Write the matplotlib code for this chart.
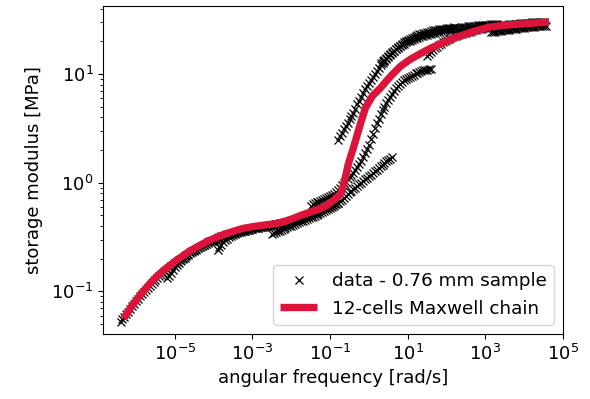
import numpy as np
import matplotlib
matplotlib.use("Agg")
import matplotlib.pyplot as plt

# ---- data (log10 of angular frequency [rad/s], log10 of storage modulus [MPa]) ----
seg1_logw = [-6.4, -6.35, -6.3, -6.25, -6.2, -6.15, -6.1, -6.05, -6.0, -5.95,
             -5.9, -5.85, -5.8, -5.75, -5.7, -5.65, -5.6, -5.55, -5.5, -5.45,
             -5.4, -5.35, -5.3, -5.25, -5.2, -5.15, -5.1, -5.05, -5.0, -4.95,
             -4.9, -4.85, -4.8, -4.75, -4.7, -4.65, -4.6, -4.55, -4.5, -4.45,
             -4.4, -4.35, -4.3, -4.25, -4.2, -4.15, -4.1, -4.05, -4.0, -3.95,
             -3.9, -3.85, -3.8, -3.75, -3.7, -3.65, -3.6, -3.55, -3.5]
seg1_logG = [-1.28, -1.258, -1.235, -1.21, -1.185, -1.16, -1.135, -1.112, -1.09, -1.067,
             -1.045, -1.025, -1.005, -0.985, -0.965, -0.947, -0.93, -0.912, -0.895, -0.877,
             -0.86, -0.845, -0.83, -0.815, -0.80, -0.785, -0.77, -0.755, -0.74, -0.727,
             -0.715, -0.702, -0.69, -0.677, -0.665, -0.652, -0.64, -0.63, -0.62, -0.61,
             -0.60, -0.59, -0.58, -0.57, -0.56, -0.55, -0.54, -0.532, -0.525, -0.517,
             -0.51, -0.502, -0.495, -0.487, -0.48, -0.475, -0.47, -0.465, -0.46]

seg2_logw = [-5.2, -5.15, -5.1, -5.05, -5.0, -4.95, -4.9, -4.85, -4.8, -4.75,
             -4.7, -4.65, -4.6, -4.55, -4.5, -4.45, -4.4, -4.35, -4.3, -4.25,
             -4.2, -4.15, -4.1, -4.05, -4.0, -3.95, -3.9, -3.85, -3.8, -3.75,
             -3.7, -3.65, -3.6, -3.55, -3.5, -3.45, -3.4, -3.35, -3.3, -3.25,
             -3.2, -3.15, -3.1, -3.05, -3.0, -2.95, -2.9, -2.85, -2.8, -2.75,
             -2.7, -2.65, -2.6, -2.55, -2.5, -2.45, -2.4, -2.35, -2.3, -2.25,
             -2.2, -2.15, -2.1]
seg2_logG = [-0.88, -0.855, -0.83, -0.805, -0.78, -0.76, -0.74, -0.722, -0.705, -0.69,
             -0.675, -0.662, -0.65, -0.637, -0.625, -0.615, -0.605, -0.595, -0.585, -0.575,
             -0.565, -0.556, -0.548, -0.54, -0.532, -0.524, -0.517, -0.51, -0.503, -0.496,
             -0.49, -0.484, -0.478, -0.472, -0.467, -0.462, -0.457, -0.452, -0.448, -0.444,
             -0.44, -0.436, -0.432, -0.428, -0.425, -0.421, -0.418, -0.414, -0.411, -0.407,
             -0.404, -0.40, -0.397, -0.393, -0.39, -0.386, -0.383, -0.379, -0.376, -0.372,
             -0.368, -0.364, -0.36]

seg3_logw = [-3.9, -3.85, -3.8, -3.75, -3.7, -3.65, -3.6, -3.55, -3.5, -3.45,
             -3.4, -3.35, -3.3, -3.25, -3.2, -3.15, -3.1, -3.05, -3.0, -2.95,
             -2.9, -2.85, -2.8, -2.75, -2.7, -2.65, -2.6, -2.55, -2.5, -2.45,
             -2.4, -2.35, -2.3, -2.25, -2.2, -2.15, -2.1, -2.05, -2.0, -1.95,
             -1.9, -1.85, -1.8, -1.75, -1.7, -1.65, -1.6, -1.55, -1.5, -1.45,
             -1.4, -1.35, -1.3, -1.25, -1.2, -1.15, -1.1, -1.05, -1.0, -0.95,
             -0.9, -0.85, -0.8]
seg3_logG = [-0.62, -0.595, -0.57, -0.55, -0.53, -0.515, -0.50, -0.49, -0.48, -0.472,
             -0.465, -0.458, -0.452, -0.447, -0.442, -0.437, -0.433, -0.429, -0.425, -0.421,
             -0.417, -0.413, -0.41, -0.406, -0.403, -0.399, -0.396, -0.392, -0.389, -0.385,
             -0.382, -0.378, -0.375, -0.371, -0.367, -0.363, -0.359, -0.355, -0.35, -0.345,
             -0.34, -0.335, -0.33, -0.324, -0.318, -0.311, -0.305, -0.297, -0.29, -0.282,
             -0.275, -0.267, -0.26, -0.252, -0.245, -0.237, -0.23, -0.222, -0.215, -0.207,
             -0.20, -0.192, -0.185]

seg4_logw = [-2.5, -2.45, -2.4, -2.35, -2.3, -2.25, -2.2, -2.15, -2.1, -2.05,
             -2.0, -1.95, -1.9, -1.85, -1.8, -1.75, -1.7, -1.65, -1.6, -1.55,
             -1.5, -1.45, -1.4, -1.35, -1.3, -1.25, -1.2, -1.15, -1.1, -1.05,
             -1.0, -0.95, -0.9, -0.85, -0.8, -0.75, -0.7, -0.65, -0.6, -0.55,
             -0.5, -0.45, -0.4, -0.35, -0.3, -0.25, -0.2, -0.15, -0.1, -0.05,
             0.0, 0.05, 0.1, 0.15, 0.2, 0.25, 0.3, 0.35, 0.4, 0.45,
             0.5, 0.55, 0.6]
seg4_logG = [-0.47, -0.462, -0.455, -0.447, -0.44, -0.432, -0.425, -0.417, -0.41, -0.402,
             -0.395, -0.387, -0.38, -0.372, -0.365, -0.357, -0.35, -0.342, -0.335, -0.327,
             -0.32, -0.312, -0.305, -0.297, -0.29, -0.28, -0.27, -0.26, -0.25, -0.24,
             -0.23, -0.22, -0.21, -0.197, -0.185, -0.17, -0.155, -0.14, -0.125, -0.107,
             -0.09, -0.075, -0.06, -0.045, -0.03, -0.015, 0.0, 0.015, 0.03, 0.045,
             0.06, 0.075, 0.09, 0.105, 0.12, 0.135, 0.15, 0.165, 0.18, 0.195,
             0.21, 0.222, 0.235]

seg5_logw = [-1.5, -1.45, -1.4, -1.35, -1.3, -1.25, -1.2, -1.15, -1.1, -1.05,
             -1.0, -0.95, -0.9, -0.85, -0.8, -0.75, -0.7, -0.65, -0.6, -0.55,
             -0.5, -0.45, -0.4, -0.35, -0.3, -0.25, -0.2, -0.15, -0.1, -0.05,
             0.0, 0.05, 0.1, 0.15, 0.2, 0.25, 0.3, 0.35, 0.4, 0.45,
             0.5, 0.55, 0.6, 0.65, 0.7, 0.75, 0.8, 0.85, 0.9, 0.95,
             1.0, 1.05, 1.1, 1.15, 1.2, 1.25, 1.3, 1.35, 1.4, 1.45,
             1.5, 1.55, 1.6]
seg5_logG = [-0.21, -0.20, -0.19, -0.182, -0.175, -0.167, -0.16, -0.15, -0.14, -0.132,
             -0.125, -0.112, -0.10, -0.085, -0.07, -0.045, -0.02, -0.005, 0.01, 0.03,
             0.05, 0.07, 0.09, 0.115, 0.14, 0.17, 0.20, 0.235, 0.27, 0.31,
             0.35, 0.40, 0.45, 0.50, 0.55, 0.59, 0.63, 0.665, 0.70, 0.73,
             0.76, 0.79, 0.82, 0.845, 0.87, 0.89, 0.91, 0.925, 0.94, 0.952,
             0.965, 0.975, 0.985, 0.995, 1.005, 1.012, 1.02, 1.027, 1.035, 1.038,
             1.04, 1.045, 1.05]

seg6_logw = [-0.8, -0.75, -0.7, -0.65, -0.6, -0.55, -0.5, -0.45, -0.4, -0.35,
             -0.3, -0.25, -0.2, -0.15, -0.1, -0.05, 0.0, 0.05, 0.1, 0.15,
             0.2, 0.25, 0.3, 0.35, 0.4, 0.45, 0.5, 0.55, 0.6, 0.65,
             0.7, 0.75, 0.8, 0.85, 0.9, 0.95, 1.0, 1.05, 1.1, 1.15,
             1.2, 1.25, 1.3, 1.35, 1.4, 1.45, 1.5, 1.55, 1.6, 1.65,
             1.7, 1.75, 1.8, 1.85, 1.9, 1.95, 2.0, 2.05, 2.1, 2.15,
             2.2]
seg6_logG = [0.39, 0.425, 0.46, 0.49, 0.52, 0.552, 0.585, 0.615, 0.645, 0.682,
             0.72, 0.755, 0.79, 0.825, 0.86, 0.89, 0.92, 0.947, 0.975, 1.002,
             1.03, 1.055, 1.08, 1.10, 1.12, 1.14, 1.16, 1.177, 1.195, 1.212,
             1.23, 1.245, 1.26, 1.275, 1.29, 1.302, 1.315, 1.325, 1.335, 1.342,
             1.35, 1.357, 1.365, 1.37, 1.375, 1.38, 1.385, 1.39, 1.395, 1.40,
             1.405, 1.407, 1.41, 1.412, 1.415, 1.417, 1.42, 1.422, 1.425, 1.427,
             1.43]

seg7_logw = [0.3, 0.35, 0.4, 0.45, 0.5, 0.55, 0.6, 0.65, 0.7, 0.75,
             0.8, 0.85, 0.9, 0.95, 1.0, 1.05, 1.1, 1.15, 1.2, 1.25,
             1.3, 1.35, 1.4, 1.45, 1.5, 1.55, 1.6, 1.65, 1.7, 1.75,
             1.8, 1.85, 1.9, 1.95, 2.0, 2.05, 2.1, 2.15, 2.2, 2.25,
             2.3, 2.35, 2.4, 2.45, 2.5, 2.55, 2.6, 2.65, 2.7, 2.75,
             2.8, 2.85, 2.9, 2.95, 3.0, 3.05, 3.1, 3.15, 3.2, 3.25,
             3.3]
seg7_logG = [1.10, 1.115, 1.13, 1.147, 1.165, 1.182, 1.20, 1.215, 1.23, 1.242,
             1.255, 1.267, 1.28, 1.29, 1.30, 1.307, 1.315, 1.322, 1.33, 1.335,
             1.34, 1.345, 1.35, 1.355, 1.36, 1.365, 1.37, 1.375, 1.38, 1.385,
             1.39, 1.395, 1.40, 1.405, 1.41, 1.412, 1.415, 1.417, 1.42, 1.422,
             1.425, 1.427, 1.43, 1.432, 1.435, 1.437, 1.44, 1.441, 1.443, 1.444,
             1.446, 1.447, 1.449, 1.45, 1.452, 1.453, 1.455, 1.456, 1.458, 1.459,
             1.46]

seg8_logw = [1.5, 1.55, 1.6, 1.65, 1.7, 1.75, 1.8, 1.85, 1.9, 1.95,
             2.0, 2.05, 2.1, 2.15, 2.2, 2.25, 2.3, 2.35, 2.4, 2.45,
             2.5, 2.55, 2.6, 2.65, 2.7, 2.75, 2.8, 2.85, 2.9, 2.95,
             3.0, 3.05, 3.1, 3.15, 3.2, 3.25, 3.3, 3.35, 3.4, 3.45,
             3.5, 3.55, 3.6, 3.65, 3.7, 3.75, 3.8, 3.85, 3.9, 3.95,
             4.0, 4.05, 4.1, 4.15, 4.2, 4.25, 4.3, 4.35, 4.4, 4.45,
             4.5]
seg8_logG = [1.165, 1.182, 1.20, 1.217, 1.235, 1.25, 1.265, 1.277, 1.29, 1.30,
             1.31, 1.32, 1.33, 1.337, 1.345, 1.352, 1.36, 1.365, 1.37, 1.375,
             1.38, 1.385, 1.39, 1.395, 1.40, 1.405, 1.41, 1.414, 1.418, 1.421,
             1.425, 1.428, 1.432, 1.435, 1.438, 1.44, 1.443, 1.445, 1.448, 1.45,
             1.452, 1.454, 1.456, 1.458, 1.46, 1.461, 1.463, 1.464, 1.466, 1.467,
             1.469, 1.47, 1.472, 1.473, 1.474, 1.475, 1.476, 1.477, 1.478, 1.479,
             1.48]

seg9_logw = [3.15, 3.2, 3.25, 3.3, 3.35, 3.4, 3.45, 3.5, 3.55, 3.6,
             3.65, 3.7, 3.75, 3.8, 3.85, 3.9, 3.95, 4.0, 4.05, 4.1,
             4.15, 4.2, 4.25, 4.3, 4.35, 4.4, 4.45, 4.5, 4.55]
seg9_logG = [1.385, 1.387, 1.39, 1.392, 1.395, 1.397, 1.40, 1.402, 1.405, 1.407,
             1.41, 1.412, 1.415, 1.417, 1.42, 1.422, 1.425, 1.427, 1.43, 1.431,
             1.433, 1.434, 1.436, 1.437, 1.439, 1.44, 1.442, 1.443, 1.445]

fit_logw = [-6.32, -6.1, -5.86, -5.6, -5.4, -5.2, -4.97, -4.7, -4.4, -4.12,
            -3.8, -3.5, -3.26, -3.0, -2.7, -2.38, -2.2, -1.96, -1.75, -1.52,
            -1.26, -1.1, -0.92, -0.8, -0.74, -0.66, -0.53, -0.40, -0.22, -0.09,
            0.09, 0.30, 0.45, 0.64, 0.82, 1.08, 1.34, 1.60, 2.12, 2.64,
            3.08, 3.55, 3.94, 4.3, 4.64]
fit_logG = [-1.25, -1.13, -1.02, -0.91, -0.84, -0.78, -0.716, -0.65, -0.585, -0.532,
            -0.485, -0.448, -0.422, -0.405, -0.39, -0.376, -0.36, -0.33, -0.30, -0.272,
            -0.239, -0.212, -0.165, -0.125, -0.11, -0.03, 0.174, 0.321, 0.541, 0.688,
            0.798, 0.872, 0.936, 1.009, 1.073, 1.138, 1.19, 1.239, 1.32, 1.385,
            1.43, 1.45, 1.46, 1.47, 1.477]

segments_logw = [seg1_logw, seg2_logw, seg3_logw, seg4_logw, seg5_logw,
                 seg6_logw, seg7_logw, seg8_logw, seg9_logw]
segments_logG = [seg1_logG, seg2_logG, seg3_logG, seg4_logG, seg5_logG,
                 seg6_logG, seg7_logG, seg8_logG, seg9_logG]

data_w = 10 ** np.concatenate([np.array(s) for s in segments_logw])
data_G = 10 ** np.concatenate([np.array(s) for s in segments_logG])
fit_w = 10 ** np.array(fit_logw)
fit_G = 10 ** np.array(fit_logG)

plt.rcParams['font.family'] = ['DejaVu Sans']
plt.rcParams['font.size'] = 13

fig = plt.figure(figsize=(5.9, 3.99), dpi=100)
ax = fig.add_axes([0.1753, 0.1629, 0.779, 0.8228])

ax.plot(data_w, data_G, 'x', color='black', markersize=6.3, markeredgewidth=0.9,
        linestyle='none', label='data - 0.76 mm sample')
ax.plot(fit_w, fit_G, '-', color='crimson', linewidth=5.3,
        solid_joinstyle='round', solid_capstyle='butt', label='12-cells Maxwell chain')

ax.set_xscale('log')
ax.set_yscale('log')
ax.set_xlim(10 ** -6.84, 10 ** 5.0)
ax.set_ylim(10 ** -1.392, 10 ** 1.628)
ax.set_xticks([1e-5, 1e-3, 1e-1, 1e1, 1e3, 1e5])
ax.xaxis.set_minor_locator(matplotlib.ticker.NullLocator())

ax.set_xlabel('angular frequency [rad/s]')
ax.set_ylabel('storage modulus [MPa]', labelpad=6)
ax.legend(loc='lower right', fontsize=13.2)

fig.savefig('out.png', dpi=100)
